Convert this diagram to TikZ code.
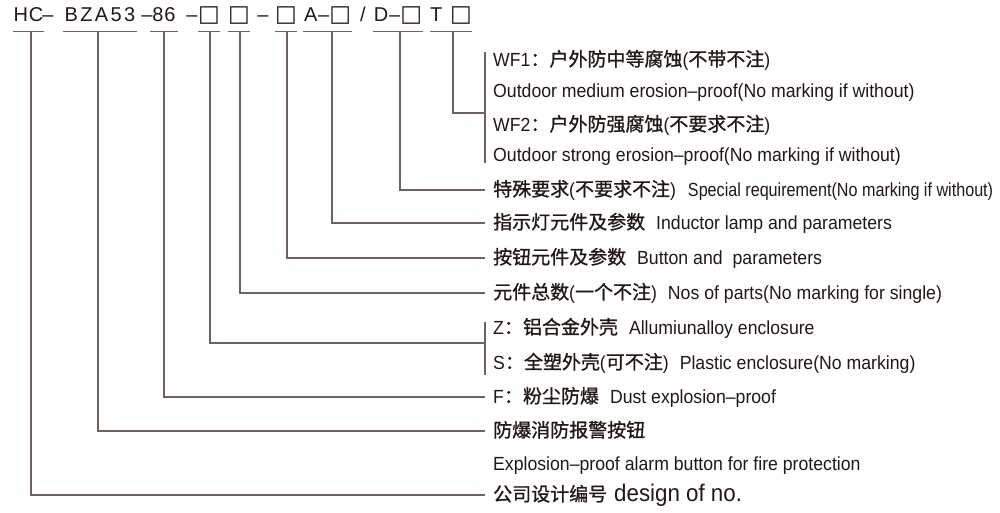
\documentclass[tikz,border=0pt]{standalone}
\usepackage{fontspec}
\setmainfont{Liberation Sans}
\newfontfamily\enf{Liberation Sans}[FakeStretch=0.93]
\newfontfamily\ennf{Liberation Sans}[FakeStretch=0.85]
\newfontfamily\cjkf{Noto Sans CJK SC}[FakeBold=1]
\newfontfamily\ttlf{Liberation Sans}[LetterSpace=4]
\newfontfamily\ttlwf{Liberation Sans}[LetterSpace=12]
\newfontfamily\boxf{DejaVu Sans}
\definecolor{ink}{RGB}{35,24,21}
\definecolor{wire}{RGB}{112,98,92}
\newcommand\C[1]{{\cjkf #1}}
\newcommand\B{{\boxf\fontsize{23}{23}\selectfont □}}
\newcommand\gap{\hspace{11pt}}
\begin{document}
\begin{tikzpicture}[x=1pt,y=-1pt,
  conn/.style={draw=wire,line width=1.2pt},
  part/.style={inner sep=0pt,text height=14pt,text depth=0pt,minimum height=34pt,
    font=\ttlf\fontsize{20}{22}\selectfont,text=ink},
  lbl/.style={anchor=west,inner xsep=8pt,inner ysep=0pt,text height=13pt,text depth=1pt,
    font=\enf\fontsize{19}{22}\selectfont,text=ink},
]
\useasboundingbox[fill=white] (0,0) rectangle (1000,512);

% title parts
\node[part,minimum width=26pt] (hc)  at (28.5,14)  {HC};
\node[part]                    (s1)  at (48,14)    {–};
\node[part,minimum width=74pt,font=\ttlwf\fontsize{20}{22}\selectfont] (bza) at (100,14) {BZA53};
\node[part]                    (s2)  at (147,14)   {–};
\node[part,minimum width=27pt] (n86) at (164,14)   {86};
\node[part]                    (s3)  at (192,14)   {–};
\node[part,minimum width=16pt] (b1)  at (209,14)   {\B};
\node[part,minimum width=16pt] (b2)  at (239,14)   {\B};
\node[part]                    (s4)  at (263,14)   {–};
\node[part,minimum width=17pt] (b3)  at (286,14)   {\B};
\node[part,minimum width=49pt] (ad)  at (327.5,14) {A–\B};
\node[part]                    (sl)  at (363,14)   {/};
\node[part,minimum width=50pt] (dd)  at (398,14)   {D–\B};
\node[part,minimum width=42pt] (tt)  at (451,14)   {T\hspace{8pt}\B};

\foreach \n in {hc,bza,n86,b1,b2,b3,ad,dd,tt}
  \draw[conn] (\n.south west) -- (\n.south east);

% labels
\node[lbl] (l1)  at (485,60)  {WF1\C{：户外防中等腐蚀}(\C{不带不注})};
\node[lbl] (l2)  at (485,91)  {Outdoor medium erosion–proof(No marking if without)};
\node[lbl] (l3)  at (485,125) {WF2\C{：户外防强腐蚀}(\C{不要求不注})};
\node[lbl] (l4)  at (485,155) {Outdoor strong erosion–proof(No marking if without)};
\node[lbl] (l5)  at (485,190) {\C{特殊要求}(\C{不要求不注})\hspace{12pt}{\ennf Special requirement(No marking if without)}};
\node[lbl] (l6)  at (485,223) {\C{指示灯元件及参数}\gap Inductor lamp and parameters};
\node[lbl] (l7)  at (485,258) {\C{按钮元件及参数}\gap Button and\hspace{10pt}parameters};
\node[lbl] (l8)  at (485,293) {\C{元件总数}(\C{一个不注})\gap Nos of parts(No marking for single)};
\node[lbl] (l9)  at (485,328) {Z\C{：铝合金外壳}\gap Allumiunalloy enclosure};
\node[lbl] (l10) at (485,363) {S\C{：全塑外壳}(\C{可不注})\gap Plastic enclosure(No marking)};
\node[lbl] (l11) at (485,397) {F\C{：粉尘防爆}\gap Dust explosion–proof};
\node[lbl] (l12) at (485,431) {\C{防爆消防报警按钮}};
\node[lbl] (l13) at (485,464) {Explosion–proof alarm button for fire protection};
\node[lbl] (l14) at (485,495) {\C{公司设计编号}\hspace{7pt}{\fontsize{24}{26}\selectfont design of no.}};

% bracket coordinates
\coordinate (wftop) at (485,52);
\coordinate (wfbot) at (485,163);
\coordinate (wfmid) at (485,113);
\coordinate (zstop) at (485,322);
\coordinate (zsbot) at (485,375);
\coordinate (zsmid) at (485,343);

\draw[conn] (wftop) -- (wfbot);
\draw[conn] (zstop) -- (zsbot);

% connectors
\draw[conn] ([xshift=2.5pt]hc.south) |- (l14.west);
\draw[conn] ([xshift=-2pt]bza.south) |- (l12.west);
\draw[conn] (n86.south)              |- (l11.west);
\draw[conn] ([xshift=1pt]b1.south)   |- (zsmid);
\draw[conn] ([xshift=1pt]b2.south)   |- (l8.west);
\draw[conn] ([xshift=1pt]b3.south)   |- (l7.west);
\draw[conn] ([xshift=4.5pt]ad.south) |- (l6.west);
\draw[conn] ([xshift=2pt]dd.south)   |- (l5.west);
\draw[conn] ([xshift=2pt]tt.south)   |- (wfmid);
\end{tikzpicture}
\end{document}
